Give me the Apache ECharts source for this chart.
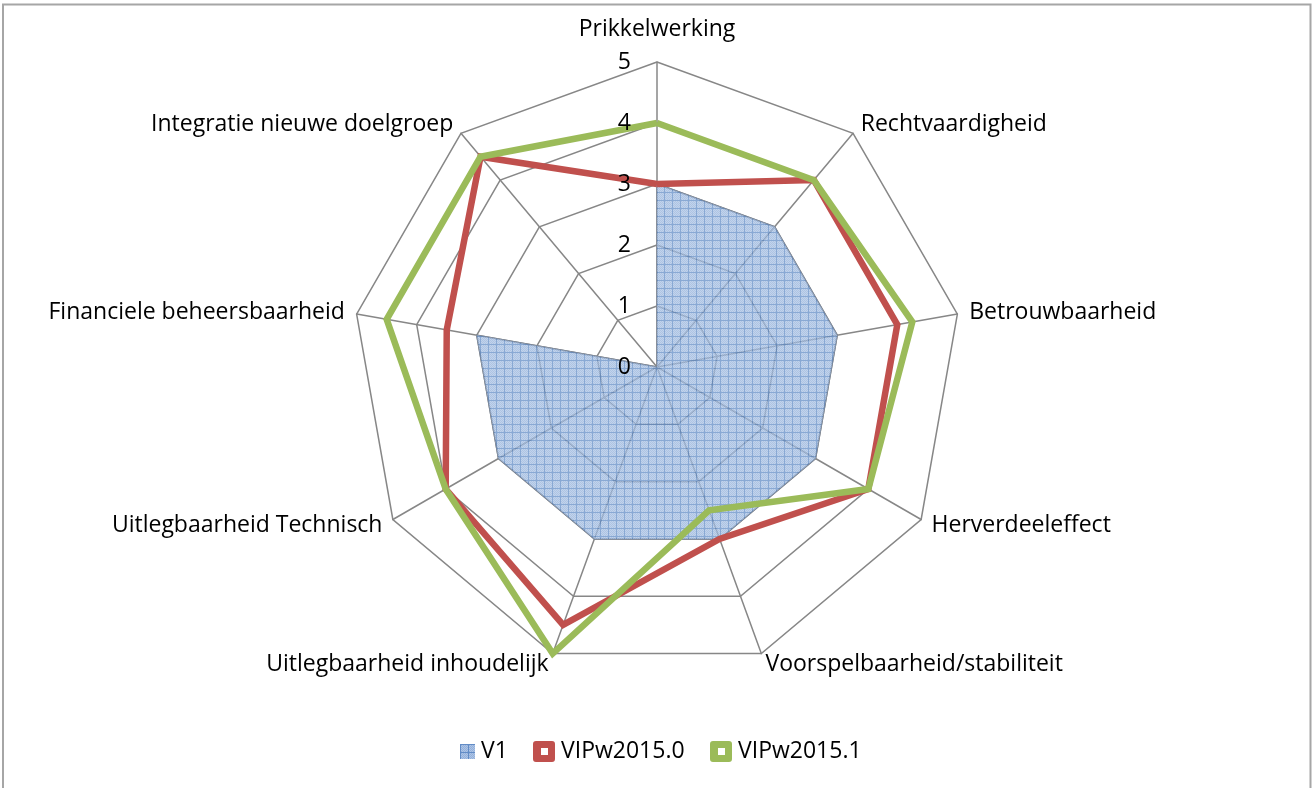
<!DOCTYPE html>
<html>
<head>
<meta charset="utf-8">
<script src="https://cdn.jsdelivr.net/npm/echarts@6/dist/echarts.min.js"></script>
<style>
html, body { margin: 0; padding: 0; background: #fff; }
#main { width: 1313px; height: 788px; }
</style>
</head>
<body>
<div id="main"></div>
<script>
// criteria in clockwise order starting at the top
var criteria = ['Prikkelwerking', 'Rechtvaardigheid', 'Betrouwbaarheid', 'Herverdeeleffect',
	'Voorspelbaarheid/stabiliteit', 'Uitlegbaarheid inhoudelijk', 'Uitlegbaarheid Technisch',
	'Financiele beheersbaarheid', 'Integratie nieuwe doelgroep'];
var v1 = [3, 3, 3, 3, 3, 3, 3, 3, 0];
var vip2015_0 = [3, 4, 4, 4, 3, 4.5, 4, 3.5, 4.5];
var vip2015_1 = [4, 4, 4.25, 4, 2.5, 5, 4, 4.5, 4.5];
var scaleTicks = [0, 1, 2, 3, 4, 5];

var FONT = 'Open Sans';
var FONT_SIZE = 23;
var CENTER = [657, 367];
var RADIUS = 305;

// echarts lays out indicators counter-clockwise, the reference goes clockwise
function ccw(arr) {
	return [arr[0]].concat(arr.slice(1).reverse());
}

function makePattern() {
	var c = document.createElement('canvas');
	c.width = 8; c.height = 8;
	var ctx = c.getContext('2d');
	ctx.fillStyle = '#adc4e6';
	ctx.fillRect(0, 0, 8, 8);
	ctx.fillStyle = '#93b0da';
	for (var y = 0; y < 8; y++) {
		for (var x = 0; x < 8; x++) {
			if ((x + y) % 2 === 0) ctx.fillRect(x, y, 1, 1);
		}
	}
	ctx.fillStyle = '#628cc6';
	ctx.fillRect(0, 0, 8, 1);
	ctx.fillRect(0, 0, 1, 8);
	return c;
}

var pattern = { image: makePattern(), repeat: 'repeat' };
var boxIcon = 'path://M3,0H19Q22,0 22,3V18Q22,21 19,21H3Q0,21 0,18V3Q0,0 3,0ZM8,7V14H15V7Z';

var myChart = echarts.init(document.getElementById('main'));

var legendBase = {
	top: 740,
	padding: 0,
	orient: 'horizontal',
	selectedMode: false,
	itemGap: 0,
	textStyle: { fontFamily: FONT, fontSize: FONT_SIZE, color: '#000', padding: [0, 0, 0, 1] }
};

var option = {
	backgroundColor: '#fff',
	animation: false,
	graphic: [{
		type: 'rect',
		shape: { x: 3, y: 4.5, width: 1307.5, height: 800 },
		style: { fill: 'none', stroke: '#a6a6a6', lineWidth: 2 },
		silent: true
	}],
	legend: [
		echarts.util.merge({ left: 460, itemWidth: 15, itemHeight: 15,
			data: [{ name: 'V1', icon: 'rect' }] }, legendBase),
		echarts.util.merge({ left: 533, itemWidth: 22, itemHeight: 21,
			data: [{ name: 'VIPw2015.0', icon: boxIcon }] }, legendBase),
		echarts.util.merge({ left: 710, itemWidth: 22, itemHeight: 21,
			data: [{ name: 'VIPw2015.1', icon: boxIcon }] }, legendBase)
	],
	radar: [{
		center: CENTER,
		radius: RADIUS,
		startAngle: 90,
		shape: 'polygon',
		splitNumber: scaleTicks.length - 1,
		nameGap: 12,
		axisName: {
			color: '#000', fontFamily: FONT, fontSize: FONT_SIZE,
			formatter: function (name) {
				return name === criteria[0] ? '{top|' + name + '}' : name;
			},
			rich: {
				top: { fontFamily: FONT, fontSize: FONT_SIZE, color: '#000', padding: [0, 0, 9, 0] }
			}
		},
		indicator: ccw(criteria).map(function (n) {
			return { name: n, min: scaleTicks[0], max: scaleTicks[scaleTicks.length - 1] };
		}),
		axisLine: { lineStyle: { color: '#878787', width: 1.5 } },
		splitLine: { lineStyle: { color: '#878787', width: 1.5 } },
		splitArea: { show: false },
		axisTick: { show: false },
		axisLabel: { show: false }
	}, {
		// only used for the value labels along the first axis
		center: CENTER,
		radius: RADIUS,
		startAngle: 90,
		shape: 'polygon',
		z: 5,
		splitNumber: scaleTicks.length - 1,
		indicator: [{ name: '', min: scaleTicks[0], max: scaleTicks[scaleTicks.length - 1] }],
		axisName: { show: false },
		axisLine: { show: false },
		splitLine: { show: false },
		splitArea: { show: false },
		axisTick: { show: false },
		axisLabel: { show: true, margin: 26, color: '#000', fontFamily: FONT, fontSize: FONT_SIZE }
	}],
	series: [{
		type: 'radar',
		radarIndex: 0,
		symbol: 'none',
		data: [{
			name: 'V1',
			value: ccw(v1),
			itemStyle: { color: pattern },
			lineStyle: { color: '#7d8796', width: 1.5 },
			areaStyle: { color: pattern, opacity: 0.75 }
		}, {
			name: 'VIPw2015.0',
			value: ccw(vip2015_0),
			itemStyle: { color: '#c0504d' },
			lineStyle: { color: '#c0504d', width: 6.5, join: 'miter' }
		}, {
			name: 'VIPw2015.1',
			value: ccw(vip2015_1),
			itemStyle: { color: '#9bbb59' },
			lineStyle: { color: '#9bbb59', width: 6.5, join: 'miter' }
		}]
	}]
};

myChart.setOption(option);
</script>
</body>
</html>
